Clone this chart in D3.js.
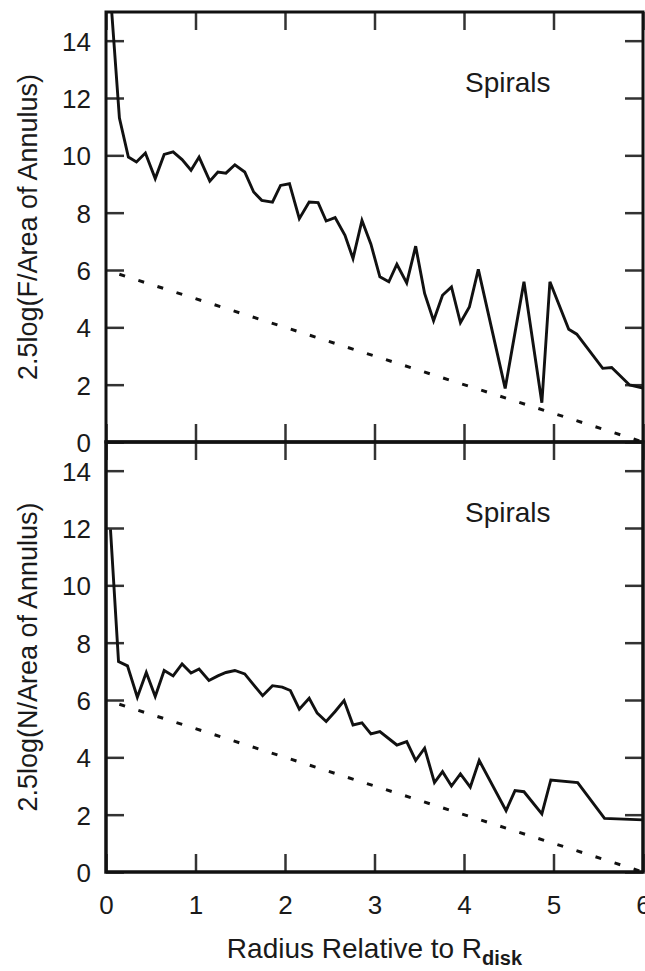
<!DOCTYPE html>
<html>
<head>
<meta charset="utf-8">
<script src="https://cdn.jsdelivr.net/npm/d3@7"></script>
<style>
  body { margin: 0; background: #fff; }
  text { font-family: "Liberation Sans", Arial, sans-serif; fill: #1a1a1a; }
</style>
</head>
<body>
<div id="chart"></div>
<script>
// Radius (in units of R_disk) and profile values
const radiusF = [0.05, 0.15, 0.25, 0.34, 0.44, 0.55, 0.65, 0.75, 0.85, 0.95, 1.04, 1.16, 1.25, 1.34, 1.44, 1.55,
  1.65, 1.74, 1.86, 1.95, 2.05, 2.16, 2.27, 2.37, 2.46, 2.56, 2.67, 2.76, 2.86, 2.96, 3.06, 3.16, 3.25, 3.36,
  3.46, 3.56, 3.66, 3.76, 3.86, 3.96, 4.06, 4.16, 4.46, 4.67, 4.87, 4.96, 5.17, 5.26, 5.55, 5.65, 5.85, 6.0];
const fluxF = [15.6, 11.3, 9.94, 9.77, 10.08, 9.19, 10.03, 10.12, 9.85, 9.48, 9.94, 9.1, 9.42, 9.38, 9.67, 9.42,
  8.72, 8.43, 8.37, 8.95, 9.01, 7.79, 8.37, 8.35, 7.71, 7.83, 7.21, 6.4, 7.73, 6.9, 5.76, 5.59, 6.2, 5.55,
  6.83, 5.18, 4.23, 5.12, 5.41, 4.16, 4.71, 6.02, 1.87, 5.59, 1.37, 5.59, 3.93, 3.76, 2.57, 2.6, 1.99, 1.88];

const radiusN = [0.05, 0.14, 0.24, 0.35, 0.45, 0.55, 0.65, 0.75, 0.85, 0.95, 1.04, 1.15, 1.25, 1.34, 1.44, 1.55,
  1.65, 1.75, 1.86, 1.97, 2.06, 2.16, 2.27, 2.36, 2.46, 2.56, 2.66, 2.76, 2.86, 2.96, 3.06, 3.25, 3.36, 3.46,
  3.56, 3.67, 3.76, 3.86, 3.96, 4.07, 4.17, 4.47, 4.57, 4.67, 4.87, 4.97, 5.27, 5.57, 6.0];
const countN = [11.95, 7.34, 7.19, 6.1, 6.96, 6.12, 7.03, 6.84, 7.26, 6.94, 7.08, 6.68, 6.84, 6.96, 7.03, 6.91,
  6.53, 6.15, 6.5, 6.45, 6.33, 5.68, 6.06, 5.54, 5.25, 5.6, 5.98, 5.13, 5.2, 4.82, 4.9, 4.43, 4.55, 3.89,
  4.32, 3.12, 3.5, 3.0, 3.42, 2.96, 3.89, 2.14, 2.84, 2.8, 2.03, 3.21, 3.12, 1.87, 1.82];

// reference (dashed) line
const fitX = [0, 6];
const fitY = [6, 0];

const xTicks = [0, 1, 2, 3, 4, 5, 6];
const yTicks = [0, 2, 4, 6, 8, 10, 12, 14];

const panels = [
  { label: "2.5log(F/Area of Annulus)", xs: radiusF, ys: fluxF, note: "Spirals" },
  { label: "2.5log(N/Area of Annulus)", xs: radiusN, ys: countN, note: "Spirals" }
];

const W = 645, H = 971;
const plotLeft = 106, plotRight = 643, plotTop = 12;
const panelH = 430;
const tick = 18;

const svg = d3.select("#chart").append("svg")
  .attr("width", W)
  .attr("height", H);

const x = d3.scaleLinear().domain([0, 6]).range([plotLeft, plotRight]);

panels.forEach((p, i) => {
  const y0 = plotTop + i * panelH;
  const y = d3.scaleLinear().domain([0, 15]).range([y0 + panelH, y0]);
  const g = svg.append("g");

  // clip for the data line
  const clipId = "clip" + i;
  svg.append("clipPath").attr("id", clipId)
    .append("rect")
    .attr("x", plotLeft).attr("y", y0)
    .attr("width", plotRight - plotLeft).attr("height", panelH);

  // left axis with labels
  const yl = g.append("g")
    .attr("transform", `translate(${plotLeft},0)`)
    .call(d3.axisLeft(y).tickValues(yTicks).tickSize(-tick).tickPadding(15).tickFormat(d3.format("d")));
  yl.selectAll("text").style("font-size", "26px").attr("dy", "0.36em");

  // right axis, ticks only
  g.append("g")
    .attr("transform", `translate(${plotRight},0)`)
    .call(d3.axisRight(y).tickValues(yTicks).tickSize(-tick).tickFormat(""));

  // top axis ticks
  g.append("g")
    .attr("transform", `translate(0,${y0})`)
    .call(d3.axisTop(x).tickValues(xTicks).tickSize(-tick).tickFormat(""));

  // bottom axis (labels only on the lower panel)
  const xb = g.append("g")
    .attr("transform", `translate(0,${y0 + panelH})`)
    .call(d3.axisBottom(x).tickValues(xTicks).tickSize(-tick).tickPadding(i === 1 ? 24 : 0)
      .tickFormat(i === 1 ? d3.format("d") : ""));
  xb.selectAll("text").style("font-size", "26px");

  g.selectAll(".domain").remove();
  g.selectAll(".tick line").attr("stroke", "#333").attr("stroke-width", 2.5);

  // frame
  g.append("rect")
    .attr("x", plotLeft).attr("y", y0)
    .attr("width", plotRight - plotLeft).attr("height", panelH)
    .attr("fill", "none")
    .attr("stroke", "#111")
    .attr("stroke-width", i === 0 ? 3 : 3.5);

  // dashed reference line
  g.append("path")
    .datum(fitX.map((v, k) => [v, fitY[k]]))
    .attr("d", d3.line().x(d => x(d[0])).y(d => y(d[1])))
    .attr("fill", "none")
    .attr("stroke", "#111")
    .attr("stroke-width", 3)
    .attr("stroke-dasharray", "6,14")
    .attr("stroke-dashoffset", -14);

  // profile
  g.append("path")
    .datum(p.xs.map((v, k) => [v, p.ys[k]]))
    .attr("clip-path", `url(#${clipId})`)
    .attr("d", d3.line().x(d => x(d[0])).y(d => y(d[1])))
    .attr("fill", "none")
    .attr("stroke", "#111")
    .attr("stroke-width", 2.9)
    .attr("stroke-linejoin", "miter");

  // panel note
  g.append("text")
    .attr("x", 465)
    .attr("y", y0 + 80)
    .style("font-size", "28px")
    .text(p.note);

  // y label
  g.append("text")
    .attr("transform", `translate(37,${y0 + panelH / 2}) rotate(-90)`)
    .attr("text-anchor", "middle")
    .style("font-size", "27px")
    .text(p.label);
});

// x label
const xl = svg.append("text")
  .attr("x", (plotLeft + plotRight) / 2)
  .attr("y", 958)
  .attr("text-anchor", "middle")
  .style("font-size", "28px");
xl.append("tspan").text("Radius Relative to R");
xl.append("tspan")
  .attr("dy", 7)
  .style("font-size", "20px")
  .style("font-weight", "bold")
  .text("disk");
</script>
</body>
</html>
